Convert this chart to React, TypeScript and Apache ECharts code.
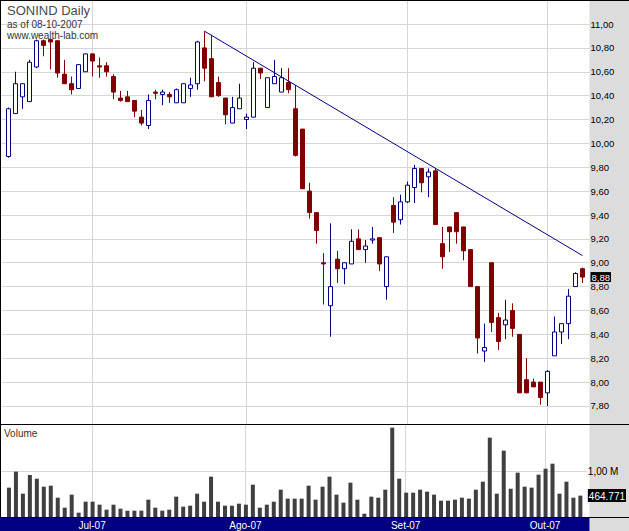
import React, { useEffect, useRef } from "react";
import * as echarts from "echarts";

// ---- Data ----
const opens = [9.89, 10.25, 10.39, 10.35, 10.64, 10.86, 10.87, 10.86, 10.58, 10.5, 10.46, 10.6, 10.75, 10.65, 10.65, 10.56, 10.38, 10.39, 10.36, 10.22, 10.15, 10.43, 10.41, 10.41, 10.34, 10.34, 10.46, 10.5, 10.8, 10.71, 10.51, 10.38, 10.17, 10.29, 10.2, 10.22, 10.63, 10.3, 10.5, 10.43, 10.51, 10.29, 10.12, 9.6, 9.42, 9.0, 8.64, 9.03, 8.95, 8.99, 9.2, 9.11, 9.19, 9.21, 8.8, 9.48, 9.36, 9.51, 9.63, 9.79, 9.72, 9.77, 9.16, 9.3, 9.42, 9.3, 9.11, 8.8, 8.26, 9.0, 8.54, 8.48, 8.6, 8.4, 8.02, 8.0, 8.0, 7.91, 8.22, 8.42, 8.49, 8.8, 8.95];
const highs = [10.3, 10.6, 10.5, 10.7, 10.87, 10.87, 10.87, 10.86, 10.7, 10.56, 10.66, 10.75, 10.75, 10.72, 10.68, 10.58, 10.44, 10.44, 10.36, 10.28, 10.41, 10.45, 10.45, 10.43, 10.46, 10.5, 10.55, 10.86, 10.94, 10.91, 10.56, 10.38, 10.39, 10.5, 10.25, 10.68, 10.63, 10.55, 10.7, 10.63, 10.63, 10.49, 10.12, 9.67, 9.42, 9.08, 9.33, 9.1, 9.0, 9.28, 9.28, 9.19, 9.3, 9.21, 9.05, 9.55, 9.57, 9.68, 9.82, 9.79, 9.79, 9.79, 9.3, 9.3, 9.42, 9.3, 9.11, 8.8, 8.49, 9.0, 8.58, 8.69, 8.66, 8.4, 8.2, 8.03, 8.0, 8.1, 8.55, 8.49, 8.78, 8.92, 8.96];
const lows = [9.88, 10.25, 10.29, 10.35, 10.63, 10.73, 10.62, 10.55, 10.5, 10.41, 10.46, 10.6, 10.56, 10.55, 10.56, 10.37, 10.35, 10.35, 10.22, 10.15, 10.12, 10.37, 10.32, 10.34, 10.34, 10.34, 10.39, 10.45, 10.52, 10.39, 10.39, 10.16, 10.17, 10.29, 10.12, 10.22, 10.54, 10.3, 10.5, 10.43, 10.42, 9.89, 9.62, 9.37, 9.16, 8.65, 8.38, 8.83, 8.82, 8.99, 9.11, 9.0, 9.16, 8.93, 8.69, 9.25, 9.32, 9.5, 9.5, 9.59, 9.55, 9.32, 8.95, 9.09, 9.16, 9.02, 8.8, 8.24, 8.17, 8.42, 8.27, 8.36, 8.38, 7.91, 7.91, 7.96, 7.81, 7.8, 8.22, 8.32, 8.36, 8.8, 8.83];
const closes = [10.29, 10.5, 10.5, 10.68, 10.86, 10.82, 10.85, 10.59, 10.5, 10.45, 10.66, 10.75, 10.69, 10.64, 10.6, 10.43, 10.36, 10.35, 10.27, 10.17, 10.36, 10.42, 10.43, 10.39, 10.45, 10.5, 10.49, 10.85, 10.63, 10.39, 10.4, 10.24, 10.3, 10.38, 10.22, 10.63, 10.59, 10.55, 10.56, 10.55, 10.45, 9.9, 9.62, 9.42, 9.27, 8.99, 8.8, 8.95, 9.0, 9.18, 9.11, 9.14, 9.2, 8.99, 9.05, 9.34, 9.51, 9.65, 9.79, 9.67, 9.76, 9.32, 9.05, 9.26, 9.26, 9.1, 8.8, 8.37, 8.29, 8.5, 8.34, 8.52, 8.45, 7.91, 7.91, 7.96, 7.87, 8.09, 8.42, 8.49, 8.72, 8.91, 8.88];
const volumes = [638000, 986000, 507000, 913000, 833000, 659000, 681000, 420000, 203000, 486000, 94000, 333000, 333000, 268000, 159000, 268000, 181000, 138000, 138000, 138000, 377000, 203000, 138000, 159000, 442000, 225000, 246000, 507000, 333000, 877000, 333000, 246000, 246000, 290000, 268000, 703000, 203000, 268000, 333000, 594000, 399000, 399000, 399000, 681000, 377000, 659000, 877000, 486000, 312000, 746000, 377000, 72000, 442000, 420000, 594000, 1942000, 833000, 529000, 529000, 594000, 551000, 486000, 355000, 355000, 377000, 420000, 399000, 594000, 768000, 1725000, 507000, 1442000, 616000, 964000, 659000, 638000, 920000, 1050000, 1159000, 507000, 768000, 420000, 464771];
const monthTickIdx = [12, 34, 57, 77];
const monthLabels = ["Jul-07", "Ago-07", "Set-07", "Out-07"];
const priceTicks = [7.8, 8.0, 8.2, 8.4, 8.6, 8.8, 9.0, 9.2, 9.4, 9.6, 9.8, 10.0, 10.2, 10.4, 10.6, 10.8, 11.0];
const volumeTicks = [1000000];
const trendX = [28, 82];
const trendY = [10.94, 9.06];

const NAVY = "#000080";
const RED = "#800000";
const GRID = "#d6d6d6";
const FONT = "'Liberation Sans Narrow', 'Liberation Sans', Arial, sans-serif";

const fmtPrice = (v: number) => v.toFixed(2).replace(".", ",");
const fmtVol = (v: number) => String(Math.round(v)).replace(/\B(?=(\d{3})+(?!\d))/g, ".");

export default function App() {
  const ref = useRef<HTMLDivElement>(null);
  useEffect(() => {
    if (!ref.current) return;
    const chart = echarts.init(ref.current, null, { renderer: "svg" });
    const n = closes.length;
    const lastClose = closes[n - 1];
    const lastVol = volumes[n - 1];
    const candleData = closes.map((c, i) => [i, opens[i], c, lows[i], highs[i]]);
    const volData = volumes.map((v, i) => [i, v]);

    const option: any = {
      animation: false,
      textStyle: { fontFamily: FONT },
      grid: [
        { left: 1.5, top: 1, width: 588, height: 423 },
        { left: 1.5, top: 425, width: 588, height: 92 },
      ],
      xAxis: [
        {
          type: "value", gridIndex: 0, min: -1, max: 83,
          axisLine: { show: false },
          axisTick: { show: false, customValues: monthTickIdx },
          axisLabel: { show: false },
          splitLine: { show: true, lineStyle: { color: GRID, width: 1 } },
        },
        {
          type: "value", gridIndex: 1, min: -1, max: 83,
          axisLine: { show: false },
          axisTick: { show: false, customValues: monthTickIdx },
          axisLabel: {
            show: true, customValues: monthTickIdx, margin: 3,
            color: "#ffffff", fontSize: 10, fontFamily: FONT,
            formatter: (v: number) => {
              const k = monthTickIdx.indexOf(Math.round(v));
              return k >= 0 ? monthLabels[k] : "";
            },
          },
          splitLine: { show: true, lineStyle: { color: GRID, width: 1 } },
        },
      ],
      yAxis: [
        {
          type: "value", gridIndex: 0, position: "right", min: 7.649, max: 11.193,
          axisLine: { show: false },
          axisTick: { show: false, customValues: priceTicks },
          axisLabel: {
            show: true, customValues: [...priceTicks, lastClose], margin: 1,
            color: "#000", fontSize: 9.5, lineHeight: 9, fontFamily: FONT,
            formatter: (v: number) => Math.abs(v - lastClose) < 1e-9 ? `{hl|${fmtPrice(v)}}` : fmtPrice(v),
            rich: { hl: { backgroundColor: "#000", color: "#fff", fontSize: 9.5, lineHeight: 9, fontFamily: FONT, padding: [0, 1, 0, 1] } },
          },
          splitLine: { show: true, lineStyle: { color: GRID, width: 1 } },
        },
        {
          type: "value", gridIndex: 1, position: "right", min: 0, max: 2000000,
          axisLine: { show: false },
          axisTick: { show: false, customValues: volumeTicks },
          axisLabel: {
            show: true, customValues: [lastVol, ...volumeTicks], margin: 1,
            color: "#000", fontSize: 10, fontFamily: FONT,
            formatter: (v: number) => Math.abs(v - lastVol) < 1e-6 ? `{hl|${fmtVol(v)}}` : (v / 1e6).toFixed(2).replace(".", ",") + " M",
            rich: { hl: { backgroundColor: "#000", color: "#fff", fontSize: 10, fontFamily: FONT, padding: [2, 1, 1, 1] } },
          },
          splitLine: { show: true, lineStyle: { color: GRID, width: 1 } },
        },
      ],
      series: [
        {
          type: "custom", xAxisIndex: 0, yAxisIndex: 0, z: 2,
          data: candleData,
          encode: { x: 0, y: [1, 2, 3, 4] },
          renderItem: (params: any, api: any) => {
            const i = api.value(0), o = api.value(1), c = api.value(2), l = api.value(3), h = api.value(4);
            const pO = api.coord([i, o]), pC = api.coord([i, c]), pL = api.coord([i, l]), pH = api.coord([i, h]);
            const x = pO[0];
            const up = c > o;
            const color = up ? NAVY : RED;
            const top = Math.min(pO[1], pC[1]);
            const bot = Math.max(pO[1], pC[1]);
            return {
              type: "group",
              children: [
                { type: "line", shape: { x1: x, y1: pH[1], x2: x, y2: pL[1] }, style: { stroke: color, lineWidth: 1 } },
                { type: "rect", shape: { x: x - 2, y: top, width: 4, height: Math.max(bot - top, 1) }, style: { fill: up ? "#ffffff" : color, stroke: color, lineWidth: 1 } },
              ],
            };
          },
        },
        {
          type: "line", xAxisIndex: 0, yAxisIndex: 0, z: 3,
          data: trendX.map((x, k) => [x, trendY[k]]),
          symbol: "none",
          lineStyle: { color: NAVY, width: 1 },
        },
        {
          type: "custom", xAxisIndex: 1, yAxisIndex: 1, z: 2,
          data: volData,
          encode: { x: 0, y: 1 },
          renderItem: (params: any, api: any) => {
            const i = api.value(0), v = api.value(1);
            const p0 = api.coord([i, 0]), p1 = api.coord([i, v]);
            return {
              type: "rect",
              shape: { x: p0[0] - 1.5, y: p1[1], width: 4, height: p0[1] - p1[1] },
              style: { fill: "#404040" },
            };
          },
        },
      ],
      graphic: [
        { type: "rect", z: -10, shape: { x: 589.5, y: 0, width: 40, height: 531 }, style: { fill: "#dcdcdc" } },
        { type: "rect", z: -10, shape: { x: 0, y: 518, width: 589.5, height: 13 }, style: { fill: NAVY } },
        { type: "line", z: 50, shape: { x1: 0, y1: 0.5, x2: 629, y2: 0.5 }, style: { stroke: "#000", lineWidth: 1 } },
        { type: "line", z: 50, shape: { x1: 0, y1: 424.5, x2: 629, y2: 424.5 }, style: { stroke: "#000", lineWidth: 1 } },
        { type: "line", z: 50, shape: { x1: 0, y1: 517.5, x2: 629, y2: 517.5 }, style: { stroke: "#000", lineWidth: 1 } },
        { type: "line", z: 50, shape: { x1: 0.5, y1: 0, x2: 0.5, y2: 518 }, style: { stroke: "#000", lineWidth: 1 } },
        { type: "text", z: 50, x: 7, y: 4, style: { text: "SONIND Daily", fill: "#4a4a4a", font: `13px ${FONT}` } },
        { type: "text", z: 50, x: 7, y: 19, style: { text: "as of 08-10-2007", fill: "#333", font: `10px ${FONT}` } },
        { type: "text", z: 50, x: 7, y: 30, style: { text: "www.wealth-lab.com", fill: "#333", font: `10px ${FONT}` } },
        { type: "text", z: 50, x: 4, y: 428, style: { text: "Volume", fill: "#333", font: `10px ${FONT}` } },
      ],
    };
    chart.setOption(option);
    return () => chart.dispose();
  }, []);
  return <div ref={ref} style={{ position: "absolute", left: 0, top: 0, width: 629, height: 531, background: "#fff" }} />;
}
